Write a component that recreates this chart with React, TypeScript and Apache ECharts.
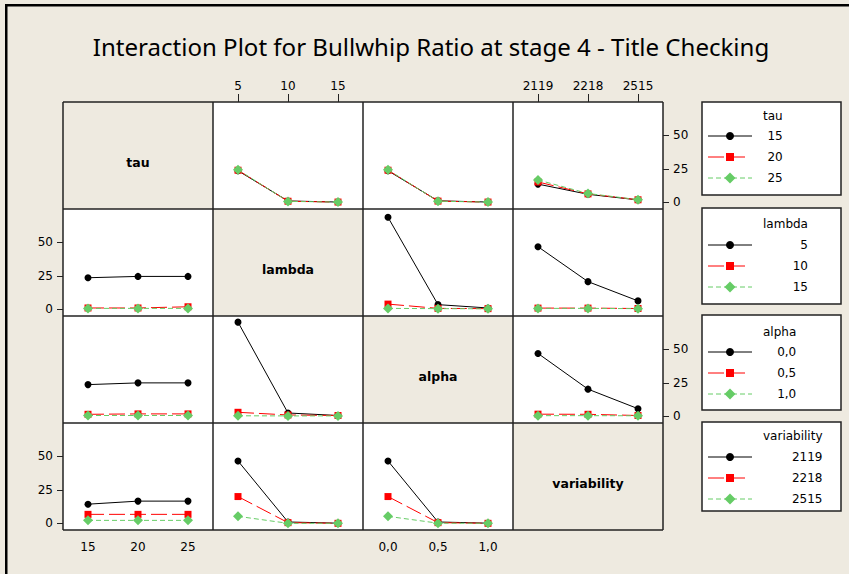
import React, { useEffect, useRef } from 'react';
import * as echarts from 'echarts';

const chartTitle = 'Interaction Plot for Bullwhip Ratio at stage 4 - Title Checking';
const factorNames = ['tau', 'lambda', 'alpha', 'variability'];
const tauLevels = ['15', '20', '25'];
const lambdaLevels = ['5', '10', '15'];
const alphaLevels = ['0,0', '0,5', '1,0'];
const variabilityLevels = ['2119', '2218', '2515'];
const yTicks = [0, 25, 50];

// each array: one row per level of the trace factor (legend), values across the x factor levels
const tauByLambda = [[23.6, 1.0, 0.2], [24.0, 0.8, 0.2], [24.3, 0.7, 0.2]];
const tauByAlpha = [[23.6, 1.1, 0.2], [24.0, 0.9, 0.2], [24.3, 0.8, 0.2]];
const tauByVariability = [[13.6, 6.0, 1.8], [15.2, 6.3, 1.9], [16.7, 6.6, 2.0]];
const lambdaByTau = [[23.6, 24.6, 24.6], [1.0, 1.0, 1.9], [0.7, 0.7, 0.7]];
const lambdaByAlpha = [[68.8, 3.5, 1.0], [3.9, 0.7, 0.5], [0.7, 0.5, 0.4]];
const lambdaByVariability = [[46.8, 20.7, 6.3], [0.9, 0.9, 0.6], [0.7, 0.7, 0.5]];
const alphaByTau = [[23.7, 25.0, 25.0], [1.5, 1.8, 1.8], [0.6, 0.6, 0.6]];
const alphaByLambda = [[70.4, 2.5, 0.6], [3.0, 1.0, 0.6], [0.4, 0.3, 0.3]];
const alphaByVariability = [[47.0, 20.3, 5.7], [1.6, 1.5, 0.6], [0.5, 0.5, 0.4]];
const variabilityByTau = [[14.3, 16.6, 16.6], [6.7, 6.7, 6.7], [2.2, 2.2, 2.2]];
const variabilityByLambda = [[46.6, 1.0, 0.1], [20.0, 0.5, 0.0], [5.2, 0.0, 0.0]];
const variabilityByAlpha = [[46.6, 1.0, 0.1], [20.0, 0.5, 0.0], [5.2, 0.1, 0.0]];

const levels = [tauLevels, lambdaLevels, alphaLevels, variabilityLevels];
const cellMeans: (number[][] | null)[][] = [
  [null, tauByLambda, tauByAlpha, tauByVariability],
  [lambdaByTau, null, lambdaByAlpha, lambdaByVariability],
  [alphaByTau, alphaByLambda, null, alphaByVariability],
  [variabilityByTau, variabilityByLambda, variabilityByAlpha, null],
];

const levelStyles = [
  { color: '#000000', dash: 'solid' as any, symbol: 'circle', size: 7 },
  { color: '#FF0000', dash: [16, 5] as any, symbol: 'rect', size: 7 },
  { color: '#66CC66', dash: [5, 3] as any, symbol: 'diamond', size: 10 },
];

const BG = '#EEEAE0';
const FONT = 'DejaVu Sans';
const colX = [63, 213, 363, 513];
const rowY = [102, 209, 316, 423];
const CW = 150;
const CH = 107;

function textWidth(text: string, font: string): number {
  const ctx = document.createElement('canvas').getContext('2d');
  if (!ctx) return text.length * 7;
  ctx.font = font;
  return ctx.measureText(text).width;
}

export default function App() {
  const ref = useRef<HTMLDivElement>(null);
  useEffect(() => {
    if (!ref.current) return;
    const chart = echarts.init(ref.current, null, { renderer: 'svg' });

    const grids: any[] = [];
    const xAxes: any[] = [];
    const yAxes: any[] = [];
    const series: any[] = [];
    const graphics: any[] = [];

    for (let i = 0; i < 4; i++) {
      for (let j = 0; j < 4; j++) {
        const k = i * 4 + j;
        const diag = i === j;
        grids.push({
          left: colX[j], top: rowY[i], width: CW, height: CH,
          show: true, backgroundColor: diag ? BG : '#FFFFFF', borderWidth: 0,
        });
        const showTopX = i === 0 && (j === 1 || j === 3);
        const showBottomX = i === 3 && (j === 0 || j === 2);
        const showX = showTopX || showBottomX;
        xAxes.push({
          type: 'category', gridIndex: k, data: levels[j], boundaryGap: true,
          position: showTopX ? 'top' : 'bottom',
          show: !diag,
          axisLine: { show: false, onZero: false },
          axisTick: { show: showTopX, alignWithLabel: true, length: 8, lineStyle: { color: '#222' } },
          axisLabel: { show: showX, color: '#000', fontFamily: FONT, fontSize: 12, margin: showTopX ? 10 : 11 },
          splitLine: { show: false },
        });
        const showLeftY = j === 0 && (i === 1 || i === 3);
        const showRightY = j === 3 && (i === 0 || i === 2);
        const showY = showLeftY || showRightY;
        yAxes.push({
          type: 'value', gridIndex: k, min: -5, max: 75,
          position: showRightY ? 'right' : 'left',
          show: !diag,
          axisLine: { show: false, onZero: false },
          axisTick: { show: showY, length: 6, customValues: yTicks, lineStyle: { color: '#222' } },
          axisLabel: { show: showY, customValues: yTicks, color: '#000', fontFamily: FONT, fontSize: 12, margin: 10 },
          splitLine: { show: false },
        });
        const means = cellMeans[i][j];
        if (means) {
          means.forEach((vals, s) => {
            const st = levelStyles[s];
            series.push({
              type: 'line', name: `${factorNames[i]} ${levels[i][s]}`,
              xAxisIndex: k, yAxisIndex: k, data: vals,
              symbol: st.symbol, symbolSize: st.size, showAllSymbol: true,
              itemStyle: { color: st.color },
              lineStyle: { color: st.color, width: 1, type: st.dash },
              z: 2 + s, silent: true,
            });
          });
        } else {
          graphics.push({
            type: 'text', x: colX[j] + CW / 2, y: rowY[i] + 60, z: 10,
            style: { text: factorNames[i], fill: '#000', font: `bold 12.5px "${FONT}"`, align: 'center', verticalAlign: 'middle' },
          });
        }
      }
    }

    // matrix frame lines
    const left = colX[0], right = colX[3] + CW, top = rowY[0], bottom = rowY[3] + CH;
    [...colX, right].forEach((x) => {
      graphics.push({ type: 'line', z: 20, shape: { x1: x, y1: top, x2: x, y2: bottom }, style: { stroke: '#222', lineWidth: 1.5 } });
    });
    [...rowY, bottom].forEach((y) => {
      graphics.push({ type: 'line', z: 20, shape: { x1: left, y1: y, x2: right, y2: y }, style: { stroke: '#222', lineWidth: 1.5 } });
    });

    // title
    const titleFont = 'Noto Sans';
    const tw = textWidth(chartTitle, `20px "${titleFont}"`);
    const titleSize = Math.max(16, Math.min(26, (20 * 677) / tw));
    graphics.push({
      type: 'text', x: 431, y: 46, z: 10,
      style: { text: chartTitle, fill: '#000', font: `${titleSize}px "${titleFont}"`, align: 'center', verticalAlign: 'middle' },
    });

    // page border (top and left)
    graphics.push({ type: 'rect', z: 30, shape: { x: 5, y: 4, width: 844, height: 2.5 }, style: { fill: '#000' } });
    graphics.push({ type: 'rect', z: 30, shape: { x: 5, y: 4, width: 2.5, height: 570 }, style: { fill: '#000' } });

    // legends
    const boxHeights = [93, 96, 95, 89];
    const titleOff = [14, 16, 17, 14];
    const itemOff = [34, 37, 37, 35];
    for (let i = 0; i < 4; i++) {
      const bt = rowY[i] + (i === 0 ? 0 : -1);
      graphics.push({
        type: 'rect', z: 10, shape: { x: 702, y: bt, width: 139, height: boxHeights[i] },
        style: { fill: '#FFFFFF', stroke: '#222', lineWidth: 1.5 },
      });
      const titleW = textWidth(factorNames[i], `12px "${FONT}"`);
      graphics.push({
        type: 'text', z: 11, x: 763, y: bt + titleOff[i],
        style: { text: factorNames[i], fill: '#000', font: `12px "${FONT}"`, align: 'left', verticalAlign: 'middle' },
      });
      levels[i].forEach((lab, s) => {
        const st = levelStyles[s];
        const yy = bt + itemOff[i] + s * 21;
        const dash = Array.isArray(st.dash) ? st.dash : null;
        graphics.push({
          type: 'line', z: 11, shape: { x1: 708, y1: yy, x2: s === 1 ? 747 : 752, y2: yy },
          style: { stroke: st.color, lineWidth: 1, lineDash: dash },
        });
        if (s === 0) {
          graphics.push({ type: 'circle', z: 12, shape: { cx: 730, cy: yy, r: 4 }, style: { fill: st.color } });
        } else if (s === 1) {
          graphics.push({ type: 'rect', z: 12, shape: { x: 726, y: yy - 4, width: 8, height: 8 }, style: { fill: st.color } });
        } else {
          graphics.push({
            type: 'polygon', z: 12,
            shape: { points: [[730, yy - 5.5], [735.5, yy], [730, yy + 5.5], [724.5, yy]] },
            style: { fill: st.color },
          });
        }
        graphics.push({
          type: 'text', z: 11, x: 763 + titleW, y: yy,
          style: { text: lab, fill: '#000', font: `12px "${FONT}"`, align: 'right', verticalAlign: 'middle' },
        });
      });
    }

    chart.setOption({
      animation: false,
      backgroundColor: BG,
      grid: grids,
      xAxis: xAxes,
      yAxis: yAxes,
      series,
      graphic: graphics,
    });
    return () => chart.dispose();
  }, []);
  return <div ref={ref} style={{ position: 'fixed', left: 0, top: 0, width: 849, height: 574 }} />;
}
